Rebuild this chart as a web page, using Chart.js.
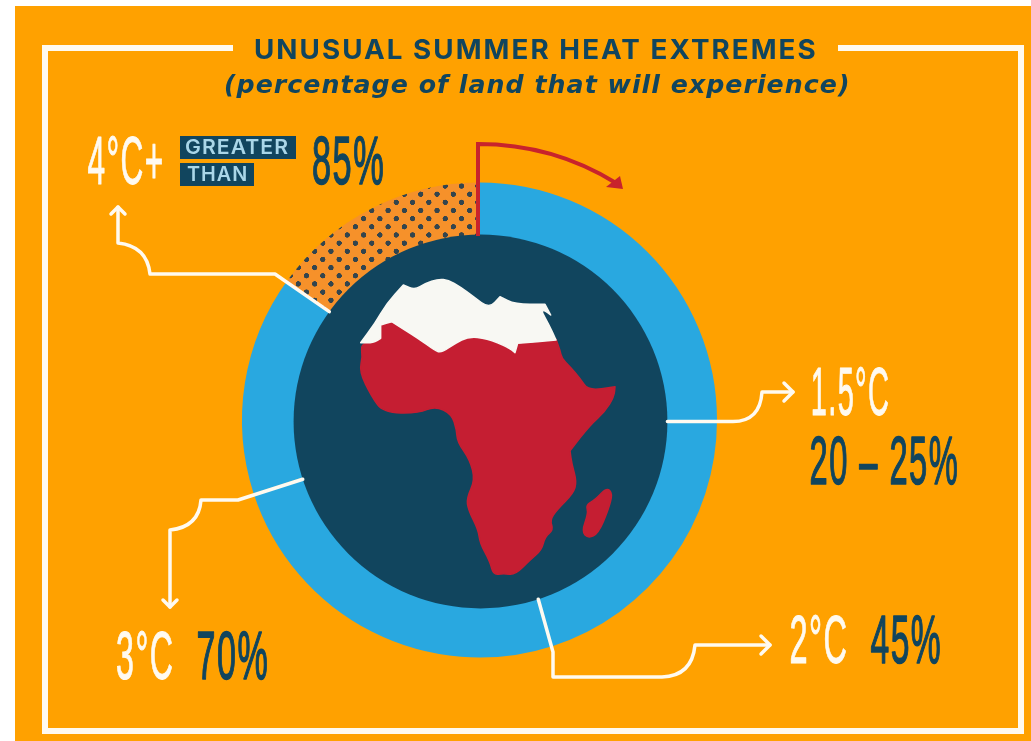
<!DOCTYPE html>
<html>
<head>
<meta charset="utf-8">
<title>Unusual summer heat extremes</title>
<script src="https://cdn.jsdelivr.net/npm/chart.js@4"></script>
<style>
html, body { margin: 0; padding: 0; background: #fff; overflow: hidden; }
canvas { display: block; }
</style>
</head>
<body>
<canvas id="chart" width="1031" height="741"></canvas>
<script>
// warming level and the share of land each one reaches
var categories = ['1.5°C', '2°C', '3°C', '4°C+', ''];
var shares = [25, 20, 25, 15, 15];
var shareLabels = ['20 – 25%', '45%', '70%', '85%'];
var titleText = 'UNUSUAL SUMMER HEAT EXTREMES';
var subtitleText = '(percentage of land that will experience)';

var ORANGE = '#FFA100', BLUE = '#29A8E0', NAVY = '#11455E', RED = '#C51E32';
var WHITE = '#FFFAF0', DOTTED = '#F6912A', DOT = '#33454E', ARROW = '#C8232C';

// map outline, in pixels of a 3x crop, see africaPoint(). a doubled point stays a sharp corner
var northPart = [[62,248],[62,248],[105,190],[140,130],[190,75],[190,75],[225,90],[255,70],[295,57],[325,60],[360,80],[400,110],[448,145],
    [480,110],[480,110],[525,133],[615,133],[615,133],[632,165],[632,165],[612,150],[605,155],[625,190],[648,240],[648,240],[533,250],[533,250],[525,278],[525,278],[505,262],
    [440,235],[385,230],[345,250],[305,278],[285,272],[235,235],[155,185],[155,185],[122,195],[122,195],[122,235],[122,235],[100,248]];
var southPart = [[62,252],[100,248],[122,235],[122,235],[122,195],[122,195],[155,185],[155,185],[235,235],[285,272],[305,278],[345,250],[385,230],
    [440,235],[505,262],[525,278],[525,278],[533,250],[533,250],[648,238],[648,238],[660,270],[665,295],[690,320],[720,355],[745,392],[825,380],[825,380],
    [822,410],[795,455],[750,495],[690,572],[690,572],[695,610],[710,665],[700,700],[650,750],[630,780],[640,810],[615,830],
    [605,870],[570,900],[525,945],[490,940],[460,945],[450,905],[420,850],[415,810],[385,750],[380,715],[405,660],
    [390,600],[352,545],[350,510],[335,462],[285,438],[235,460],[130,458],[95,410],[58,335],[68,290]];
var island = [[800,683],[818,700],[805,750],[775,820],[745,835],[725,815],[745,760],[738,735],[765,720]];

function africaPoint(p) {
    return [340 + p[0] / 3, 260 + p[1] / 3];
}

function dotPattern(ctx) {
    var tile = document.createElement('canvas');
    tile.width = 64;
    tile.height = 64;
    var t = tile.getContext('2d');
    t.fillStyle = DOTTED;
    t.fillRect(0, 0, 64, 64);
    t.fillStyle = DOT;
    [[0,0],[64,0],[0,64],[64,64],[32,32]].forEach(function (d) {
        t.beginPath();
        t.arc(d[0], d[1], 10.5, 0, Math.PI * 2);
        t.fill();
    });
    var pattern = ctx.createPattern(tile, 'repeat');
    pattern.setTransform(new DOMMatrix([0.255, 0, 0, 0.255, 461.5, 186]));
    return pattern;
}

function fitText(ctx, text, x0, x1, baseline, font, color, spacing, outline) {
    ctx.save();
    ctx.font = font;
    ctx.letterSpacing = spacing || '0px';
    ctx.textBaseline = 'alphabetic';
    ctx.textAlign = 'left';
    var m = ctx.measureText(text);
    var sx = (x1 - x0) / (m.actualBoundingBoxRight + m.actualBoundingBoxLeft);
    ctx.translate(x0, baseline);
    ctx.scale(sx, 1);
    ctx.fillStyle = color;
    ctx.fillText(text, m.actualBoundingBoxLeft, 0);
    if (outline) {
        ctx.strokeStyle = color;
        ctx.lineWidth = outline;
        ctx.lineJoin = 'round';
        ctx.strokeText(text, m.actualBoundingBoxLeft, 0);
    }
    ctx.restore();
}

function fillShape(ctx, pts, color) {
    var q = pts.map(africaPoint);
    var n = q.length;
    ctx.beginPath();
    ctx.moveTo((q[n - 1][0] + q[0][0]) / 2, (q[n - 1][1] + q[0][1]) / 2);
    for (var i = 0; i < n; i++) {
        var next = q[(i + 1) % n];
        ctx.quadraticCurveTo(q[i][0], q[i][1], (q[i][0] + next[0]) / 2, (q[i][1] + next[1]) / 2);
    }
    ctx.closePath();
    ctx.fillStyle = color;
    ctx.strokeStyle = color;
    ctx.lineWidth = 1.5;
    ctx.lineJoin = 'round';
    ctx.fill();
    ctx.stroke();
}

// the globe sits a little off the ring's centre and covers the ring's inner edge
function globeRadius(arc) {
    return arc.outerRadius * 0.787;
}

// edge of the globe at the end of slice i
function edgePoint(chart, i) {
    var arc = chart.getDatasetMeta(0).data[i];
    var r = globeRadius(arc);
    return [arc.x + 1 + r * Math.cos(arc.endAngle), arc.y + 1.5 + r * Math.sin(arc.endAngle)];
}

function chevron(ctx, x, y, dx, dy, size) {
    ctx.beginPath();
    ctx.moveTo(x - dx * size - dy * size, y - dy * size - dx * size);
    ctx.lineTo(x, y);
    ctx.lineTo(x - dx * size + dy * size, y - dy * size + dx * size);
    ctx.stroke();
}

var backdrop = {
    id: 'backdrop',
    beforeDraw: function (chart) {
        var ctx = chart.ctx;
        ctx.save();
        ctx.fillStyle = '#fff';
        ctx.fillRect(0, 0, 1031, 741);
        ctx.fillStyle = ORANGE;
        ctx.fillRect(15, 6, 1016, 735);
        ctx.strokeStyle = WHITE;
        ctx.lineWidth = 6;
        ctx.lineCap = 'butt';
        ctx.beginPath();
        ctx.moveTo(233, 48);
        ctx.lineTo(45, 48);
        ctx.lineTo(45, 731);
        ctx.lineTo(1021, 731);
        ctx.lineTo(1021, 48);
        ctx.lineTo(838, 48);
        ctx.stroke();
        ctx.restore();
    }
};

var overlay = {
    id: 'overlay',
    afterDatasetsDraw: function (chart) {
        var ctx = chart.ctx;
        var arc = chart.getDatasetMeta(0).data[0];
        ctx.save();

        // globe
        ctx.fillStyle = NAVY;
        ctx.beginPath();
        ctx.arc(arc.x + 1, arc.y + 1.5, globeRadius(arc), 0, Math.PI * 2);
        ctx.fill();
        fillShape(ctx, southPart, RED);
        fillShape(ctx, island, RED);
        fillShape(ctx, northPart, '#F8F8F3');

        // red marker of the start of the scale
        ctx.strokeStyle = ARROW;
        ctx.lineWidth = 4;
        ctx.lineJoin = 'miter';
        ctx.beginPath();
        ctx.moveTo(478, 236);
        ctx.lineTo(478, 144);
        ctx.quadraticCurveTo(553, 144, 616, 183);
        ctx.stroke();
        ctx.fillStyle = ARROW;
        ctx.beginPath();
        ctx.moveTo(623, 189);
        ctx.lineTo(606, 187);
        ctx.lineTo(620, 176);
        ctx.closePath();
        ctx.fill();

        // connectors
        ctx.strokeStyle = WHITE;
        ctx.lineWidth = 3.5;
        ctx.lineJoin = 'round';
        ctx.lineCap = 'round';

        var a = edgePoint(chart, 0);
        ctx.beginPath();
        ctx.moveTo(a[0], a[1]);
        ctx.lineTo(733, a[1]);
        ctx.quadraticCurveTo(760, a[1], 762, 392);
        ctx.lineTo(793, 392);
        ctx.stroke();
        chevron(ctx, 793, 392, 1, 0, 9);

        a = edgePoint(chart, 1);
        ctx.beginPath();
        ctx.moveTo(a[0], a[1]);
        ctx.lineTo(553, 652);
        ctx.lineTo(553, 677);
        ctx.lineTo(662, 677);
        ctx.quadraticCurveTo(692, 676, 695, 645);
        ctx.lineTo(770, 645);
        ctx.stroke();
        chevron(ctx, 770, 645, 1, 0, 9);

        a = edgePoint(chart, 2);
        ctx.beginPath();
        ctx.moveTo(a[0], a[1]);
        ctx.lineTo(238, 500);
        ctx.lineTo(201, 500);
        ctx.quadraticCurveTo(199, 527, 170, 530);
        ctx.lineTo(170, 607);
        ctx.stroke();
        chevron(ctx, 170, 607, 0, 1, 7);

        a = edgePoint(chart, 3);
        ctx.beginPath();
        ctx.moveTo(a[0], a[1]);
        ctx.lineTo(275, 274);
        ctx.lineTo(150, 274);
        ctx.quadraticCurveTo(147, 246, 118, 243);
        ctx.lineTo(118, 207);
        ctx.stroke();
        chevron(ctx, 118, 207, 0, -1, 7);
        ctx.restore();

        // title
        fitText(ctx, titleText, 255, 815, 59, '700 27px Inter, "Open Sans", sans-serif', NAVY, '2px');
        fitText(ctx, subtitleText, 225, 848, 93, 'italic 700 25px "DejaVu Sans", sans-serif', NAVY, '1px');

        // big labels
        var big = '68px "Liberation Sans Narrow", "Liberation Sans", sans-serif';
        fitText(ctx, categories[0], 813, 888, 415, big, WHITE, '3px', 1);
        fitText(ctx, shareLabels[0], 811, 957, 484, big, NAVY, '3px', 1.5);
        fitText(ctx, categories[1], 791, 846, 663, big, WHITE, '3px', 1);
        fitText(ctx, shareLabels[1], 871, 940, 663, big, NAVY, '3px', 1.5);
        fitText(ctx, categories[2], 117, 172, 679, big, WHITE, '3px', 1);
        fitText(ctx, shareLabels[2], 198, 267, 679, big, NAVY, '3px', 1.5);
        fitText(ctx, categories[3], 88, 162, 184, big, WHITE, '3px', 1);
        fitText(ctx, shareLabels[3], 313, 383, 184, big, NAVY, '3px', 1.5);

        // the "greater than" tag
        ctx.fillStyle = NAVY;
        ctx.fillRect(180, 136, 116, 23);
        ctx.fillRect(180, 163, 74, 23);
        var tag = '600 20px Inter, "Open Sans", sans-serif';
        fitText(ctx, 'GREATER', 186, 288, 154, tag, '#A9D6E8', '1px');
        fitText(ctx, 'THAN', 187, 246, 181, tag, '#A9D6E8', '1px');
    }
};

var canvas = document.getElementById('chart');
var context = canvas.getContext('2d');

new Chart(context, {
    type: 'doughnut',
    data: {
        labels: categories,
        datasets: [{
            data: shares,
            backgroundColor: [BLUE, BLUE, BLUE, BLUE, dotPattern(context)],
            borderWidth: 0,
            hoverOffset: 0,
            hoverBorderWidth: 0
        }]
    },
    options: {
        responsive: false,
        animation: false,
        cutout: '76%',
        layout: { padding: { left: 242, right: 314, top: 182.5, bottom: 83.5 } },
        plugins: { legend: { display: false }, tooltip: { enabled: false }, title: { display: false } }
    },
    plugins: [backdrop, overlay]
});
</script>
</body>
</html>
